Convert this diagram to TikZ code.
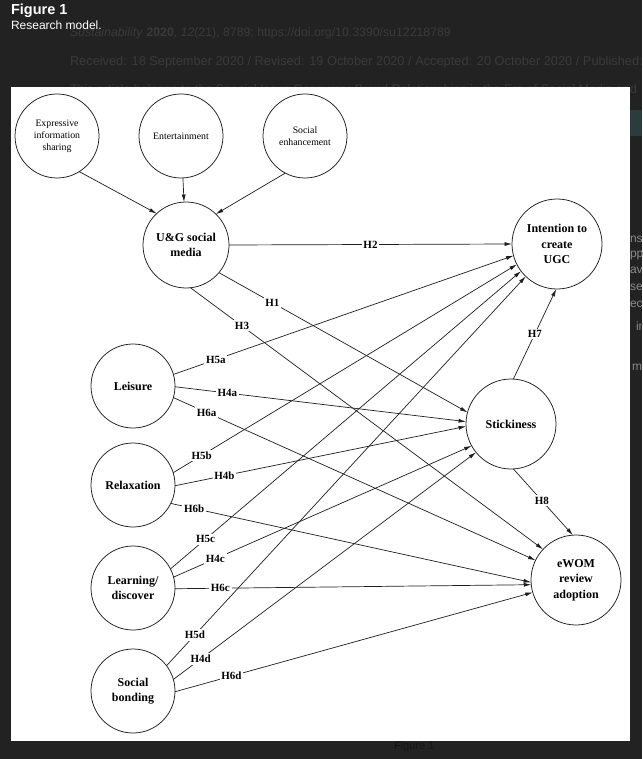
\documentclass[tikz,border=0pt]{standalone}
\usepackage{fontspec}
\setmainfont{Liberation Serif}
\newfontfamily\hdr{Liberation Sans}
\usetikzlibrary{arrows.meta}
\definecolor{bgc}{HTML}{222222}
\definecolor{faint}{HTML}{3A3A3A}
\definecolor{frag}{HTML}{8A8A8A}
\definecolor{tealbox}{HTML}{2A3C3E}
\definecolor{ln}{HTML}{1E1E1E}
\definecolor{dark}{HTML}{141414}
\begin{document}
\begin{tikzpicture}[x=1pt,y=-1pt,
  every node/.style={inner sep=0pt, outer sep=0pt},
  smallc/.style={circle, draw=ln, line width=0.75pt, minimum size=84pt, align=center,
    font=\fontsize{9.8}{12}\selectfont},
  mainc/.style={circle, draw=ln, line width=0.75pt, minimum size=86pt, align=center,
    font=\bfseries\fontsize{12}{15.5}\selectfont},
  bigc/.style={circle, draw=ln, line width=0.75pt, minimum size=90pt, align=center,
    font=\bfseries\fontsize{12}{15.5}\selectfont},
  conn/.style={draw=ln, line width=0.7pt, -{Latex[length=7.5pt,width=4pt]}},
  lbl/.style={fill=white, inner sep=1.8pt, font=\bfseries\fontsize{11}{11}\selectfont},
  bgtext/.style={anchor=base west, text=faint, font=\hdr\fontsize{12.3}{12.3}\selectfont},
  fragtext/.style={anchor=base west, text=frag, font=\hdr\fontsize{12}{12}\selectfont}
]
\useasboundingbox (0,0) rectangle (642,759);
\clip (0,0) rectangle (642,759);
\fill[bgc] (0,0) rectangle (642,759);

% faint page text behind the figure
\node[bgtext] (t1) at (70,37) {\textit{Sustainability} \textbf{2020}, \textit{12}(21), 8789; https://doi.org/10.3390/su12218789};
\node[bgtext, font=\hdr\fontsize{12.8}{12.8}\selectfont] (t2) at (70,66) {Received: 18 September 2020 / Revised: 19 October 2020 / Accepted: 20 October 2020 / Published: 22 October 2020};
\node[bgtext, font=\hdr\fontsize{12.5}{12.5}\selectfont] (t3) at (70,94) {This article belongs to the Special Issue Consumer Brand Relationships in the Era of Social Media and};
\fill[tealbox] (630,110) rectangle (642,136);
\node[fragtext] (f1) at (630,242) {ns};
\node[fragtext] (f2) at (630,257) {pp};
\node[fragtext] (f3) at (630,273) {av};
\node[fragtext] (f4) at (630,290) {se};
\node[fragtext] (f5) at (630,307) {ec};
\node[fragtext] (f6) at (636,330) {in};
\node[fragtext] (f7) at (632,370) {m};
\node[anchor=base west, text=dark, font=\hdr\fontsize{11}{11}\selectfont] (f8) at (394,749) {Figure 1};

% header
\node[anchor=base west, text=white, font=\hdr\bfseries\fontsize{14.5}{14.5}\selectfont] (fig) at (11,15) {Figure 1};
\node[anchor=base west, text=white, font=\hdr\fontsize{12}{12}\selectfont] (rm) at (11,30) {Research model.};

% white panel
\fill[white] (11,87) rectangle (630,741);

% nodes
\node[smallc] (exp) at (57,136) {Expressive\\information\\sharing};
\node[smallc] (ent) at (181,136) {Entertainment};
\node[smallc] (soc) at (305,136) {Social\\enhancement};
\node[mainc] (ug) at (186,245) {U\&G social\\media};
\node[bigc] (int) at (557,244) {Intention to\\create\\UGC};
\node[bigc] (sti) at (511,424) {Stickiness};
\node[bigc] (ewom) at (576,580) {eWOM\\review\\adoption};
\node[mainc, minimum size=84pt] (lei) at (133,386) {Leisure};
\node[mainc, minimum size=84pt] (rel) at (133,485) {Relaxation};
\node[mainc, minimum size=84pt] (lea) at (133,588) {Learning/\\discover};
\node[mainc, minimum size=84pt] (sb) at (133,691) {Social\\bonding};

% antecedents of U&G
\draw[conn] (exp.-58) -- (ug.133);
\draw[conn] (ent) -- (ug);
\draw[conn] (soc.-118) -- (ug.46);

% U&G paths
\draw[conn] (ug.0) -- node[lbl,pos=0.5]{H2} (int.180);
\draw[conn] (ug.-40) -- node[lbl,pos=0.215]{H1} (sti.165);
\draw[conn] (ug.-84) -- node[lbl,pos=0.146]{H3} (ewom.137);

% Leisure
\draw[conn] (lei.16) -- node[lbl,pos=0.125]{H5a} (int.-165);
\draw[conn] (lei.-1) -- node[lbl,pos=0.18]{H4a} (sti.177);
\draw[conn] (lei.-16) -- node[lbl,pos=0.092]{H6a} (ewom.154);

% Relaxation
\draw[conn] (rel.17) -- node[lbl,pos=0.083]{H5b} (int.-153);
\draw[conn] (rel.-1) -- node[lbl,pos=0.17]{H4b} (sti.-177);
\draw[conn] (rel.-26) -- node[lbl,pos=0.065]{H6b} (ewom.-177);

% Learning
\draw[conn] (lea.27) -- node[lbl,pos=0.10]{H5c} (int.-143);
\draw[conn] (lea.15) -- node[lbl,pos=0.14]{H4c} (sti.-151);
\draw[conn] (lea.-1) -- node[lbl,pos=0.127]{H6c} (ewom.-174);

% Social bonding
\draw[conn] (sb.37) -- node[lbl,pos=0.079]{H5d} (int.-134);
\draw[conn] (sb.16) -- node[lbl,pos=0.09]{H4d} (sti.-141);
\draw[conn] (sb.-1) -- node[lbl,pos=0.158]{H6d} (ewom.-164);

% Stickiness
\draw[conn] (sti.87) -- node[lbl,pos=0.5]{H7} (int.-91);
\draw[conn] (sti.-87) -- node[lbl,pos=0.48]{H8} (ewom.94);
\end{tikzpicture}
\end{document}
